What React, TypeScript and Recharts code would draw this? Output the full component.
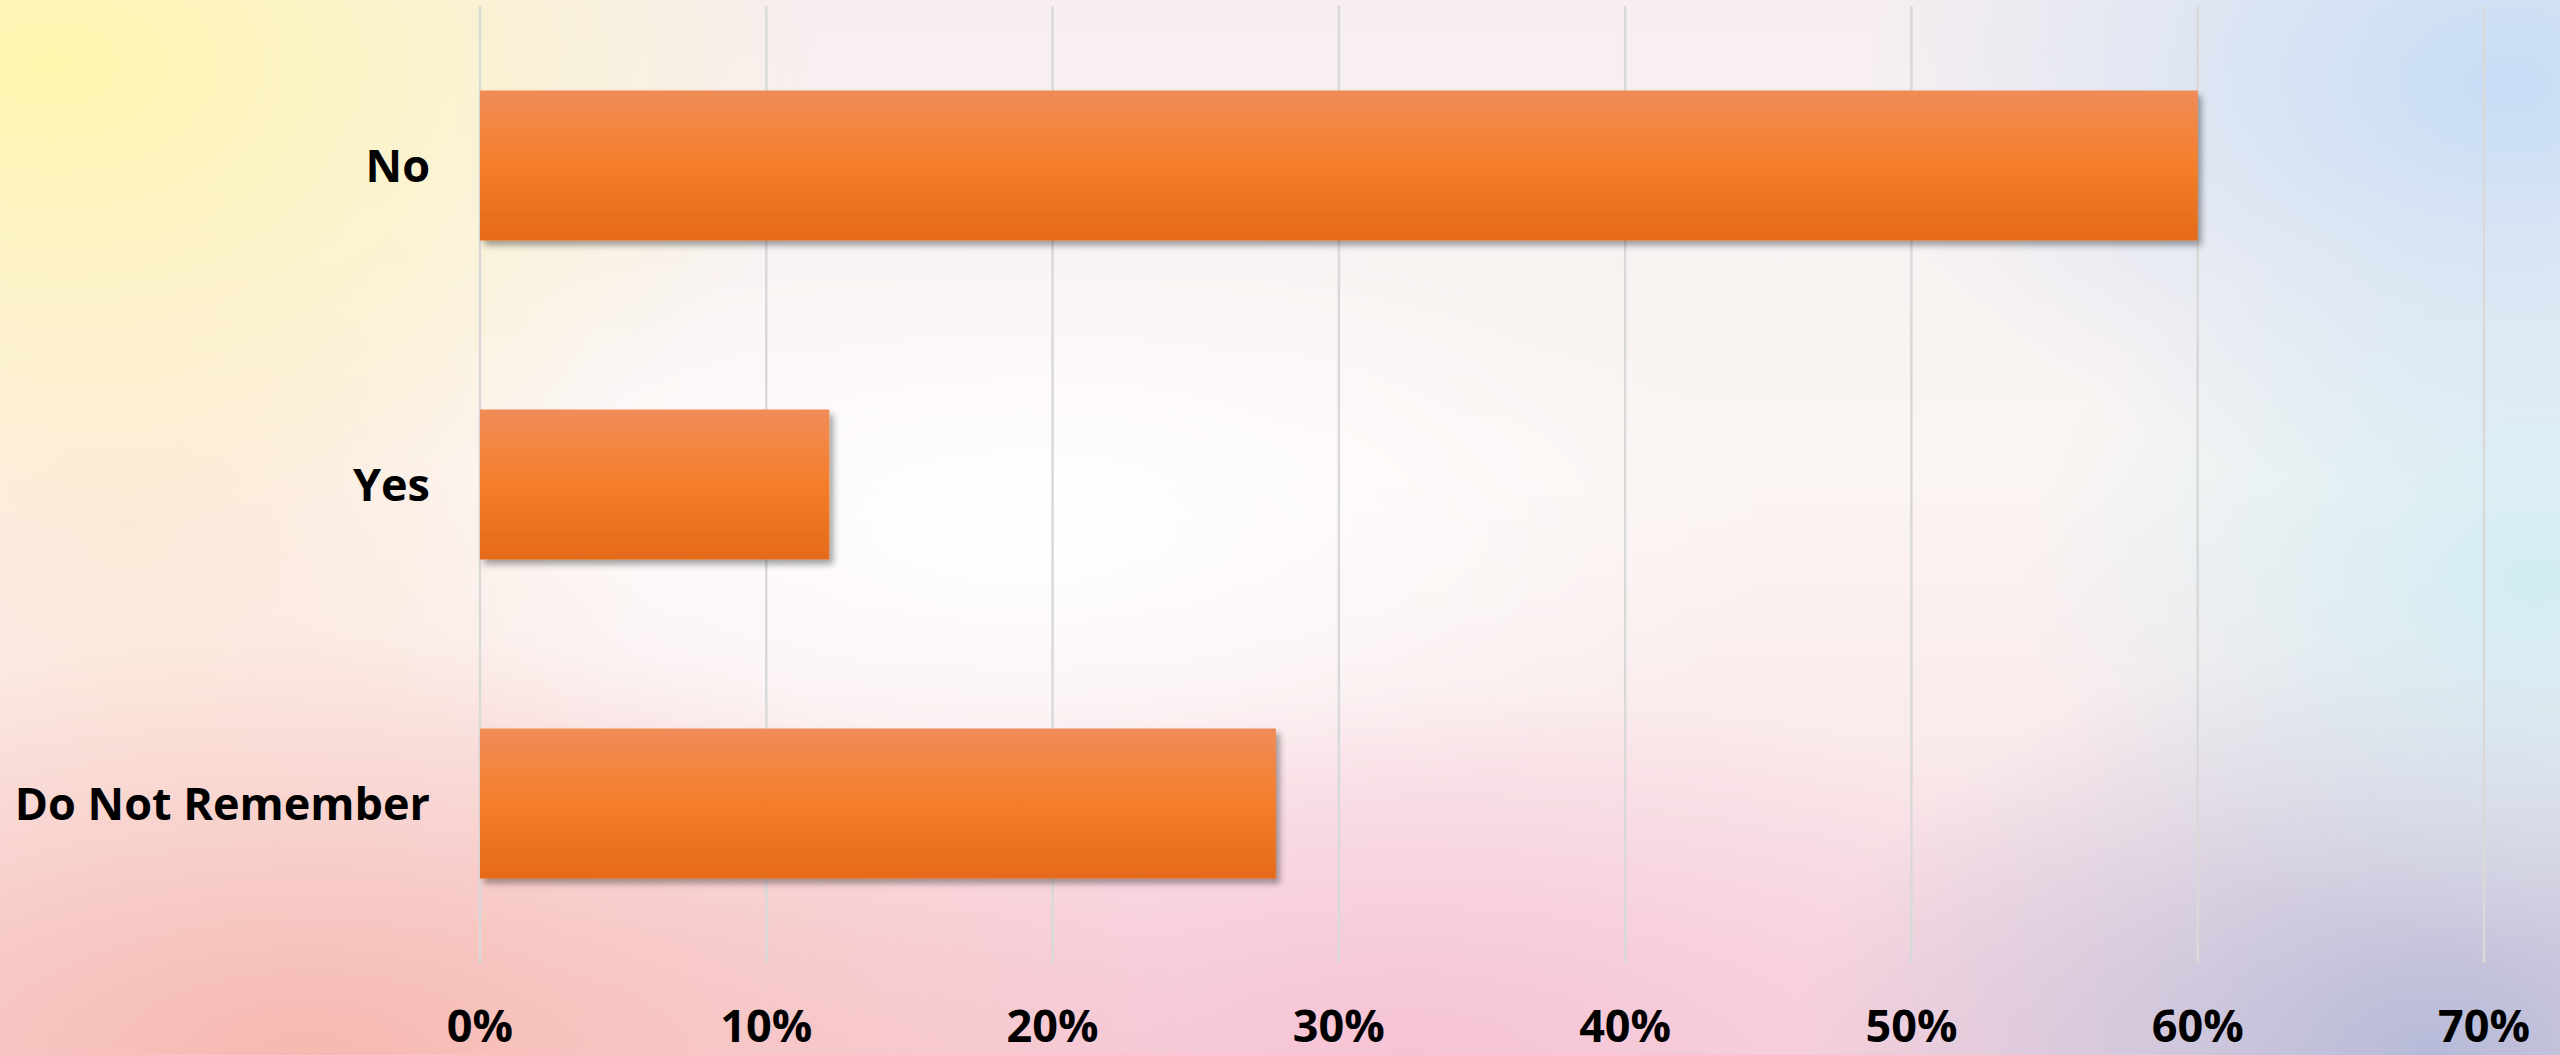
import { BarChart, Bar, XAxis, YAxis, CartesianGrid } from 'recharts'

const categories = ['No', 'Yes', 'Do Not Remember']
const shares = [60, 12.2, 27.8]
const xTicks = [0, 10, 20, 30, 40, 50, 60, 70]

const data = categories.map((label, i) => ({ label, value: shares[i] }))

const FONT = '"Open Sans", "DejaVu Sans", sans-serif'

const background = [
  'radial-gradient(ellipse 30% 45% at 2% 6%, rgba(255,246,170,0.95), rgba(255,246,170,0) 100%)',
  'radial-gradient(ellipse 25% 40% at 98% 8%, rgba(196,220,246,0.95), rgba(196,220,246,0) 100%)',
  'radial-gradient(ellipse 20% 35% at 99% 55%, rgba(205,236,244,0.9), rgba(205,236,244,0) 100%)',
  'radial-gradient(ellipse 25% 40% at 95% 100%, rgba(178,184,216,0.95), rgba(178,184,216,0) 100%)',
  'radial-gradient(ellipse 35% 40% at 12% 100%, rgba(246,180,170,0.9), rgba(246,180,170,0) 100%)',
  'radial-gradient(ellipse 35% 35% at 55% 100%, rgba(245,190,210,0.85), rgba(245,190,210,0) 100%)',
  'radial-gradient(ellipse 20% 40% at 5% 50%, rgba(252,232,214,0.9), rgba(252,232,214,0) 100%)',
  'radial-gradient(ellipse 30% 30% at 40% 50%, rgba(255,255,255,0.95), rgba(255,255,255,0) 100%)',
  'linear-gradient(180deg, #f6eef0 0%, #fbf5f3 45%, #f8dde3 100%)',
].join(', ')

function CategoryTick({ x, y, payload }: any) {
  return (
    <text
      x={x - 42}
      y={y}
      dy={16}
      textAnchor="end"
      fontFamily={FONT}
      fontWeight={700}
      fontSize={45}
      fill="#000"
    >
      {payload.value}
    </text>
  )
}

function PercentTick({ x, y, payload }: any) {
  return (
    <text
      x={x}
      y={y}
      dy={71}
      textAnchor="middle"
      fontFamily={FONT}
      fontWeight={700}
      fontSize={45}
      fill="#000"
    >
      {`${payload.value}%`}
    </text>
  )
}

export default function App() {
  return (
    <div style={{ position: 'absolute', left: 0, top: 0, width: 2560, height: 1055, background }}>
      <BarChart
        width={2560}
        height={1055}
        data={data}
        layout="vertical"
        barCategoryGap="26.5%"
        margin={{ top: 6, right: 76, bottom: 0, left: 0 }}
      >
        <defs>
          <linearGradient id="barFill" x1="0" y1="0" x2="0" y2="1">
            <stop offset="0%" stopColor="#f08c58" />
            <stop offset="50%" stopColor="#f47e2a" />
            <stop offset="100%" stopColor="#e56a19" />
          </linearGradient>
          <filter id="barShadow" x="-5%" y="-10%" width="115%" height="130%">
            <feDropShadow dx={4} dy={5} stdDeviation={3} floodColor="#000" floodOpacity={0.35} />
          </filter>
        </defs>
        <CartesianGrid horizontal={false} stroke="#d9d9d9" strokeWidth={2.5} />
        <XAxis
          type="number"
          domain={[0, 70]}
          ticks={xTicks}
          height={92}
          axisLine={false}
          tickLine={false}
          tick={<PercentTick />}
          interval={0}
        />
        <YAxis
          type="category"
          dataKey="label"
          width={480}
          axisLine={false}
          tickLine={false}
          tick={<CategoryTick />}
        />
        <Bar dataKey="value" fill="url(#barFill)" filter="url(#barShadow)" isAnimationActive={false} />
      </BarChart>
    </div>
  )
}
